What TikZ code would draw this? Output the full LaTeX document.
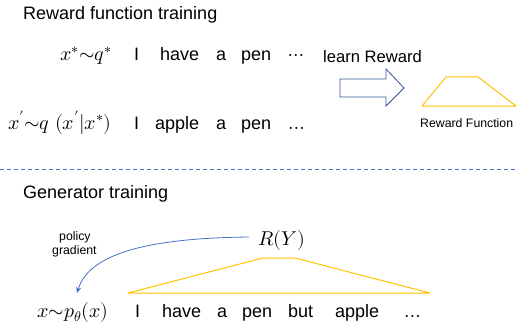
\documentclass[tikz,border=0pt]{standalone}
\usepackage{fontspec}
\usepackage{unicode-math}
\setmainfont{Liberation Sans}
\setmathfont{Latin Modern Math}
\usetikzlibrary{arrows.meta}
\definecolor{ylw}{RGB}{255,192,0}
\definecolor{blu}{RGB}{68,114,196}
\definecolor{dblu}{RGB}{47,85,151}
\begin{document}
\begin{tikzpicture}[x=1pt,y=-1pt,
  big/.style={inner sep=0pt,anchor=base west,font=\fontsize{18}{20}\selectfont},
  mid/.style={inner sep=0pt,anchor=base west,font=\fontsize{16.6}{18}\selectfont},
  small/.style={inner sep=0pt,anchor=base west,font=\fontsize{12.3}{14}\selectfont},
  mth/.style={inner sep=0pt,anchor=base west,font=\fontsize{20}{22}\selectfont},
  trap/.style={draw=ylw,line width=1pt,line join=round}]
\useasboundingbox (0,0) rectangle (517,329);
% titles
\node[big] (t1) at (23,20) {Reward function training};
\node[big] (t2) at (23,198) {Generator training};
% line 1
\node[mth] (m1) at (60,61) {$x^*{\sim}q^*$};
\node[big] (w11) at (134,61) {I};
\node[big] (w12) at (160,61) {have};
\node[big] (w13) at (216,61) {a};
\node[big] (w14) at (241,61) {pen};
\node[mth] (w15) at (288,61) {$\cdots$};
% line 2
\node[mth] (m2) at (8,129) {$x'{\sim}q\ (x'|x^*)$};
\node[big] (w21) at (134,129) {I};
\node[big] (w22) at (155,129) {apple};
\node[big] (w23) at (216,129) {a};
\node[big] (w24) at (241,129) {pen};
\node[mth] (w25) at (288,129) {$\ldots$};
% learn reward
\node[mid] (lr) at (323,63) {learn Reward};
\draw[dblu,line width=0.8pt,line join=miter] (340,79) -- (386,79) -- (386,69) -- (404,88) -- (386,106) -- (386,97) -- (340,97) -- cycle;
\draw[trap] (422,106) -- (446,77) -- (478,77) -- (516,106) -- cycle;
\node[small] (rf) at (420,127) {Reward Function};
% dashed separator
\draw[blu,line width=0.8pt,dash pattern=on 4pt off 3pt] (0,169) -- (517,169);
% generator
\node[small] (pg1) at (59,240) {policy};
\node[small] (pg2) at (52,254) {gradient};
\node[mth] (ry) at (258,245) {$R(Y)$};
\draw[trap] (128,293) -- (263,258) -- (295,258) -- (430,293) -- cycle;
\node[mth] (m3) at (37,317) {$x{\sim}p_\theta(x)$};
\node[big] (w31) at (135,317) {I};
\node[big] (w32) at (162,317) {have};
\node[big] (w33) at (217,317) {a};
\node[big] (w34) at (242,317) {pen};
\node[big] (w35) at (288,317) {but};
\node[big] (w36) at (335,317) {apple};
\node[mth] (w37) at (404,317) {$\ldots$};
\coordinate (cs) at (249,237);
\coordinate (ce) at (77,293);
\draw[blu,line width=0.8pt,-{Stealth[length=6pt,width=5pt]}] (cs) .. controls (160,238) and (90,250) .. (ce);
\end{tikzpicture}
\end{document}
